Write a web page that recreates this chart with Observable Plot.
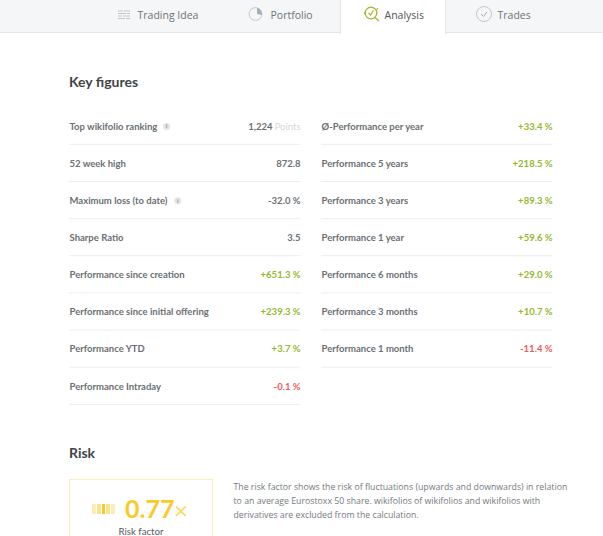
<!DOCTYPE html>
<html><head><meta charset="utf-8">
<script src="https://cdn.jsdelivr.net/npm/d3@7"></script>
<script src="https://cdn.jsdelivr.net/npm/@observablehq/plot@0.6"></script>
<style>
html,body{margin:0;padding:0;background:#fff;overflow:hidden}
#page{position:relative;width:603px;height:536px;overflow:hidden;font-family:"Open Sans",sans-serif;color:#555b5f}
#page svg.plot{position:absolute;left:0;top:0}
.bar{position:absolute;left:0;top:0;width:603px;height:32px;background:#f5f6f8;border-bottom:1px solid #e4e6e8}
.active{position:absolute;left:340px;top:0;width:106px;height:34px;background:#fff;border-left:1px solid #e4e6e8;border-right:1px solid #e4e6e8;box-sizing:border-box}
.tab{position:absolute;top:8px;font-size:10.5px;line-height:14px;color:#6d7276;white-space:nowrap}
.tab.on{color:#50565a}
.h{position:absolute;font-family:Lato,sans-serif;font-weight:700;font-size:14px;line-height:18px;color:#3f4447}
.box{position:absolute;left:69px;top:479px;width:144px;height:70px;border:1px solid #fbeebc;box-sizing:border-box}
.rv{position:absolute;left:125px;top:493px;font-family:Lato,sans-serif;font-weight:700;font-size:25px;line-height:30px;color:#fbc92c}
.rx{position:absolute;left:174px;top:497px;font-family:Lato,sans-serif;font-size:24px;line-height:26px;color:#fcd762}
.rl{position:absolute;left:69px;top:526px;width:144px;text-align:center;font-family:Lato,sans-serif;font-size:9.7px;line-height:10px;color:#555b5f}
.desc{position:absolute;left:233.5px;top:480px;width:360px;font-size:8.75px;line-height:14px;color:#74797c;white-space:nowrap}
.g{position:absolute;top:504px;height:10px}
svg.ic{position:absolute;overflow:visible}
</style></head><body>
<div id="page">
<div class="bar"></div><div class="active"></div>
<svg class="ic" style="left:117px;top:10px" width="14" height="10"><g stroke="#c4c7c9" stroke-width="1"><path d="M1 1h5M7 1h6M1 3.5h8M10 3.5h3M1 6h4M6 6h7M1 8.5h7M9 8.5h4"/></g></svg>
<div class="tab" style="left:137.5px">Trading Idea</div>
<svg class="ic" style="left:248px;top:6px" width="16" height="16"><circle cx="7.5" cy="8" r="6.4" fill="none" stroke="#c4c7c9" stroke-width="1"/><path d="M9 1.8 A6.4 6.4 0 0 1 13.8 9 L9 8 Z" fill="#a9adb0"/></svg>
<div class="tab" style="left:270.5px">Portfolio</div>
<svg class="ic" style="left:362px;top:5px" width="20" height="18"><circle cx="9" cy="8" r="5.8" fill="none" stroke="#9dbb2a" stroke-width="1.3"/><path d="M6.5 8l2 2 3-4.5M13 12.5l4 3.5M2 9l2-2M16 3l-1.5 2" fill="none" stroke="#9dbb2a" stroke-width="1.2"/></svg>
<div class="tab on" style="left:384.5px">Analysis</div>
<svg class="ic" style="left:475px;top:6px" width="18" height="16"><circle cx="9" cy="8" r="7.5" fill="none" stroke="#c4c7c9" stroke-width="1"/><path d="M6 8l2.5 2.5L12 6" fill="none" stroke="#a9adb0" stroke-width="1"/></svg>
<div class="tab" style="left:497.5px">Trades</div>
<div class="h" style="left:69px;top:73px">Key figures</div>
<div id="chart"></div>
<div class="h" style="left:69px;top:444px">Risk</div>
<div class="box"></div>
<div id="gauge"></div>
<div class="rv" id="rv"></div><div class="rx">×</div>
<div class="rl">Risk factor</div>
<div class="desc">The risk factor shows the risk of fluctuations (upwards and downwards) in relation<br>to an average Eurostoxx 50 share. wikifolios of wikifolios and wikifolios with<br>derivatives are excluded from the calculation.</div>
</div>
<script>
const leftLabels = ["Top wikifolio ranking","52 week high","Maximum loss (to date)","Sharpe Ratio","Performance since creation","Performance since initial offering","Performance YTD","Performance Intraday"];
const leftValues = ["1,224","872.8","-32.0 %","3.5","+651.3 %","+239.3 %","+3.7 %","-0.1 %"];
const rightLabels = ["Ø-Performance per year","Performance 5 years","Performance 3 years","Performance 1 year","Performance 6 months","Performance 3 months","Performance 1 month"];
const rightValues = ["+33.4 %","+218.5 %","+89.3 %","+59.6 %","+29.0 %","+10.7 %","-11.4 %"];
const riskFactor = "0.77";
const gaugeLevels = [0.35,0.55,1,0.55,0.35];

const kind = v => v.startsWith("+") ? "up" : (v==="-0.1 %"||v==="-11.4 %") ? "down" : "plain";
const rows = [
  ...leftLabels.map((label,i)=>({col:0,row:i,label,value:leftValues[i],kind:kind(leftValues[i])})),
  ...rightLabels.map((label,i)=>({col:1,row:i,label,value:rightValues[i],kind:kind(rightValues[i])}))
];
const infoRows = rows.filter(d=>d.label==="Top wikifolio ranking"||d.label==="Maximum loss (to date)");
const pointsRow = rows.filter(d=>d.value==="1,224");
const font = 'Lato,sans-serif';
const fs = 9.5;
const plot = Plot.plot({
  width:603,height:536,margin:0,
  x:{type:"linear",domain:[0,1],range:[69,321],axis:null},
  y:{type:"linear",domain:[0,7],range:[126,386],axis:null},
  color:{type:"ordinal",domain:["plain","up","down"],range:["#6b7074","#93b82c","#ee5a5a"]},
  style:{fontFamily:font,background:"transparent"},
  marks:[
    Plot.ruleY(rows,{y:d=>d.row+0.5-0.02,x1:"col",x2:d=>d.col+0.9167,stroke:"#ebedef",strokeWidth:1}),
    Plot.text(rows,{x:"col",y:"row",text:"label",textAnchor:"start",fontSize:fs,fontWeight:700,fill:"#6a6f73"}),
    Plot.text(rows,{x:d=>d.col+0.9167,y:"row",text:d=>d.value==="1,224"?"":d.value,textAnchor:"end",fontSize:fs,fontWeight:700,fill:d=>d.kind}),
    Plot.text(pointsRow,{x:d=>d.col+0.9167,y:"row",text:d=>"Points",textAnchor:"end",fontSize:fs,fill:"#d5d7d9"}),
    Plot.text(pointsRow,{x:d=>d.col+0.9167,y:"row",text:"value",textAnchor:"end",dx:-28,fontSize:fs,fontWeight:700,fill:"#6b7074"}),
    Plot.dot(infoRows,{x:d=>d.label==="Top wikifolio ranking"?0.385:0.43,y:"row",r:3.6,fill:"#e3e5e6"}),
    Plot.text(infoRows,{x:d=>d.label==="Top wikifolio ranking"?0.385:0.43,y:"row",text:d=>"i",fontSize:6,fontWeight:700,fill:"#8f9397"})
  ]
});
document.getElementById("chart").append(plot);
document.getElementById("rv").textContent = riskFactor;
const g = document.getElementById("gauge");
gaugeLevels.forEach((o,i)=>{
  const d=document.createElement("div");d.className="g";
  d.style.left=(92+i*4.8)+"px";d.style.width="3.8px";d.style.background="#fbc92c";d.style.opacity=o;
  g.append(d);
});
</script>
</body></html>
